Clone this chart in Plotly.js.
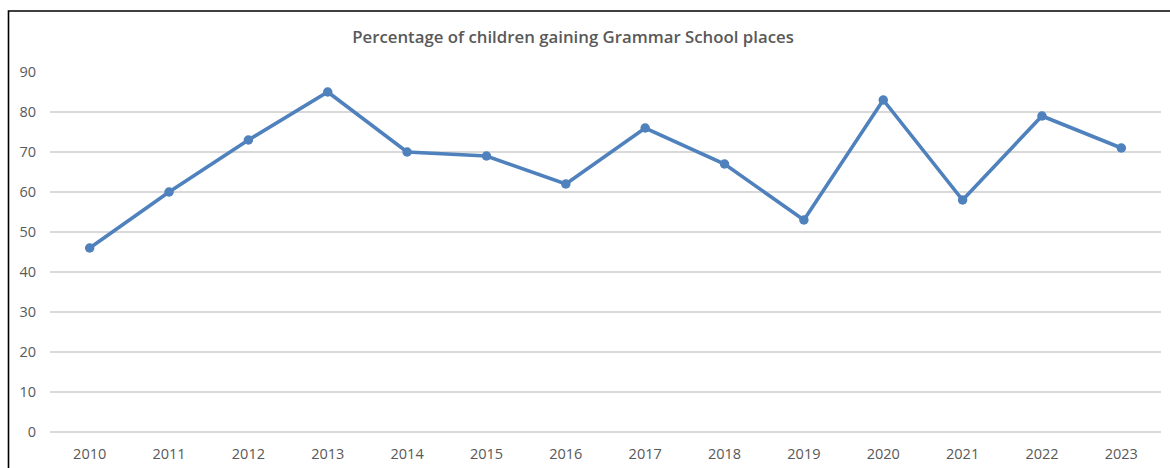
<!DOCTYPE html>
<html>
<head>
<meta charset="utf-8">
<script src="https://cdn.plot.ly/plotly-3.0.1.min.js"></script>
<style>
  html, body { margin: 0; padding: 0; background: #ffffff; }
  #chart { width: 1170px; height: 468px; }
</style>
</head>
<body>
<div id="chart"></div>
<script>
const years = ["2010","2011","2012","2013","2014","2015","2016","2017","2018","2019","2020","2021","2022","2023"];
const percentages = [46, 60, 73, 85, 70, 69, 62, 76, 67, 53, 83, 58, 79, 71];
const yTicks = [0, 10, 20, 30, 40, 50, 60, 70, 80, 90];
const chartTitle = "Percentage of children gaining Grammar School places";

const W = 1170, H = 468;
const mL = 50, mR = 9, mT = 72, mB = 36;
const pw = W - mL - mR, ph = H - mT - mB;

const trace = {
  type: "scatter",
  mode: "lines+markers",
  x: years,
  y: percentages,
  line: { color: "#4F81BD", width: 3.6 },
  marker: { color: "#4F81BD", size: 9.5 },
  hoverinfo: "x+y"
};

const layout = {
  width: W,
  height: H,
  margin: { l: mL, r: mR, t: mT, b: mB, pad: 0 },
  paper_bgcolor: "#ffffff",
  plot_bgcolor: "#ffffff",
  showlegend: false,
  font: { family: "Open Sans, sans-serif", color: "#595959", size: 14 },
  title: {
    text: chartTitle,
    font: { family: "Open Sans, sans-serif", size: 16.8, color: "#595959", weight: 600 },
    xref: "paper",
    x: (573 - mL) / pw,
    xanchor: "center",
    yref: "container",
    y: 1 - 37.5 / H,
    yanchor: "middle"
  },
  xaxis: {
    type: "category",
    range: [-0.5, years.length - 0.5],
    showgrid: false,
    showline: false,
    zeroline: false,
    ticks: "",
    ticklabelstandoff: 11,
    tickfont: { size: 14.5, color: "#595959" },
    fixedrange: true
  },
  yaxis: {
    range: [0, 90],
    tickvals: yTicks,
    ticktext: yTicks.map(String),
    showgrid: true,
    gridcolor: "#d9d9d9",
    gridwidth: 1.3,
    zeroline: true,
    zerolinecolor: "#d9d9d9",
    zerolinewidth: 1.3,
    showline: false,
    ticks: "",
    ticklabelstandoff: 13,
    tickfont: { size: 14.5, color: "#595959" },
    fixedrange: true
  },
  shapes: [{
    type: "rect",
    xref: "paper",
    yref: "paper",
    x0: (8.5 - mL) / pw,
    x1: (W + 20 - mL) / pw,
    y0: -(mB + 20) / ph,
    y1: (H - mB - 11) / ph,
    line: { color: "#000000", width: 1.6 },
    fillcolor: "rgba(0,0,0,0)",
    layer: "above"
  }]
};

Plotly.newPlot("chart", [trace], layout, { displayModeBar: false, staticPlot: true });
</script>
</body>
</html>
